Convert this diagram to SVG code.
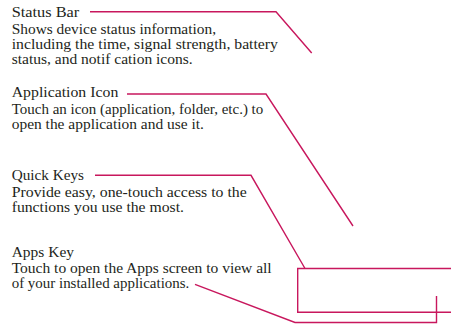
<svg xmlns="http://www.w3.org/2000/svg" width="451" height="324" viewBox="0 0 451 324">
<style>
text{font-family:"Liberation Serif","Times New Roman",serif;font-size:14px;fill:#231f20}
.c{fill:none;stroke:#c8175d;stroke-width:1.4;stroke-linejoin:miter}
</style>
<rect width="451" height="324" fill="#fff"/>
<g id="status-bar">
<text x="11.7" y="16.7" textLength="67.6" lengthAdjust="spacingAndGlyphs">Status Bar</text>
<text x="11.7" y="34.3" textLength="204.3" lengthAdjust="spacingAndGlyphs">Shows device status information,</text>
<text x="11.7" y="49.3" textLength="266.3" lengthAdjust="spacingAndGlyphs">including the time, signal strength, battery</text>
<text x="11.7" y="64.3" textLength="181" lengthAdjust="spacingAndGlyphs">status, and notif cation icons.</text>
</g>
<g id="application-icon">
<text x="11.7" y="97.3" textLength="106.6" lengthAdjust="spacingAndGlyphs">Application Icon</text>
<text x="11.7" y="114.3" textLength="251.6" lengthAdjust="spacingAndGlyphs">Touch an icon (application, folder, etc.) to</text>
<text x="11.7" y="129.3" textLength="192.3" lengthAdjust="spacingAndGlyphs">open the application and use it.</text>
</g>
<g id="quick-keys">
<text x="11.7" y="179.5" textLength="72.3" lengthAdjust="spacingAndGlyphs">Quick Keys</text>
<text x="11.7" y="196.7" textLength="235" lengthAdjust="spacingAndGlyphs">Provide easy, one-touch access to the</text>
<text x="11.7" y="211.7" textLength="172.3" lengthAdjust="spacingAndGlyphs">functions you use the most.</text>
</g>
<g id="apps-key">
<text x="11.7" y="256.7" textLength="62.3" lengthAdjust="spacingAndGlyphs">Apps Key</text>
<text x="11.7" y="272.7" textLength="260" lengthAdjust="spacingAndGlyphs">Touch to open the Apps screen to view all</text>
<text x="11.7" y="288" textLength="177.6" lengthAdjust="spacingAndGlyphs">of your installed applications.</text>
</g>
<g id="connectors">
<polyline class="c" points="90,11.7 276,11.7 311.7,53"/>
<polyline class="c" points="127,94 266,94 353,226"/>
<polyline class="c" points="95,175.3 251,175.3 305,268.5"/>
<polyline class="c" points="451,268.5 297.7,268.5 297.7,312.3 451,312.3"/>
<polyline class="c" points="195,284.3 295,322.5 436.5,322.5 436.5,296"/>
</g>
</svg>
